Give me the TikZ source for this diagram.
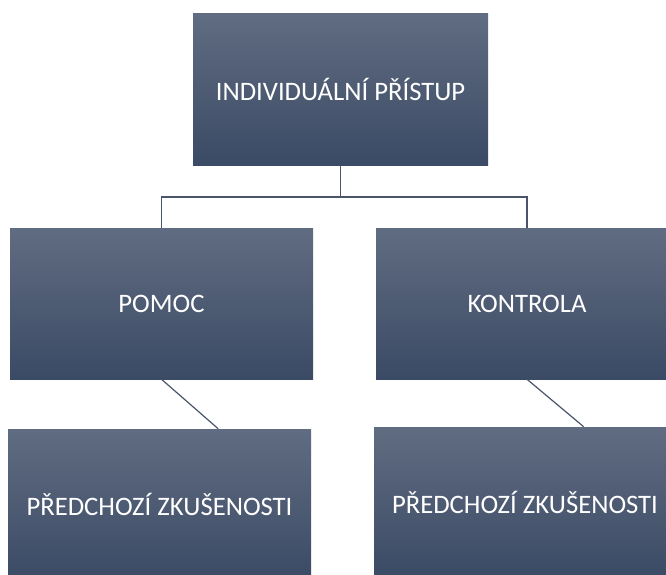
\documentclass[tikz,border=0pt]{standalone}
\usepackage{fontspec}
\setmainfont{Carlito}
\usepackage{tikz}
\usepackage{xcolor}
\definecolor{BoxTop}{HTML}{606C81}
\definecolor{BoxBot}{HTML}{3B4A65}
\definecolor{Wire}{HTML}{4A556B}

\begin{document}
\begin{tikzpicture}[x=0.75pt, y=-0.75pt,
    box/.style={rectangle, inner sep=0pt, top color=BoxTop, bottom color=BoxBot,
      text=white, font=\fontsize{20}{23}\selectfont,
      minimum height=113.25pt},
    link/.style={Wire, line width=0.9pt}]
  \useasboundingbox (0,0) rectangle (666,574);
  \clip (0,0) rectangle (666,574);
  % boxes
  \node[box, minimum width=221.25pt] (pristup) at (340.5, 89.5) {INDIVIDUÁLNÍ PŘÍSTUP};
  \node[box, minimum width=227.25pt] (pomoc) at (161.5, 303.5) {POMOC};
  \node[box, minimum width=226.5pt] (kontrola) at (527, 303.5) {KONTROLA};
  \node[box, minimum width=227.25pt] (zkusA) at (159.5, 504.5) {PŘEDCHOZÍ ZKUŠENOSTI};
  \node[box, minimum width=226.5pt] (zkusB) at (525, 502.5) {PŘEDCHOZÍ ZKUŠENOSTI};
  % connectors
  \coordinate (fork) at (340.5, 197);
  \draw[link] (pristup.south) -- (fork) -| (pomoc.north);
  \draw[link] (fork) -| (kontrola.north);
  \draw[link] (pomoc.south) -- ([xshift=44pt]zkusA.north);
  \draw[link] (kontrola.south) -- ([xshift=44pt]zkusB.north);
\end{tikzpicture}
\end{document}
